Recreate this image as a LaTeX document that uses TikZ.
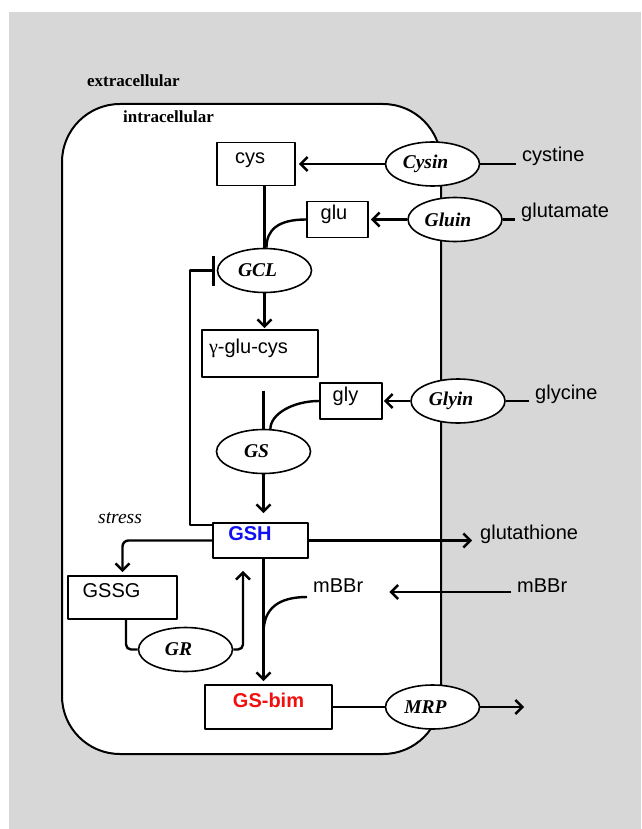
\documentclass[tikz,border=0pt]{standalone}
\usepackage{fontspec}
\setmainfont{Liberation Serif}
\setsansfont{Liberation Sans}
\usepackage{tikz}
\usetikzlibrary{arrows.meta,shapes.geometric}
\definecolor{bggray}{HTML}{D7D7D7}
\definecolor{gshblue}{HTML}{1010F0}
\definecolor{bimred}{HTML}{F01010}
\tikzset{
  every picture/.style={line join=round, >={Straight Barb[length=7pt,width=14pt]}},
  nudge/.style={execute at end node={\hspace*{#1}}},
  box/.style={draw, line width=1.8pt, fill=white, inner sep=2pt, text height=12pt, text depth=12pt, font={\sffamily\fontsize{20}{24}\selectfont}},
  enz/.style={ellipse, draw, line width=1.6pt, fill=white, minimum width=94pt, minimum height=44pt, inner sep=0pt, nudge=14pt, font={\rmfamily\bfseries\itshape\fontsize{19.5}{23}\selectfont}},
  lbl/.style={inner sep=6pt, anchor=base west, font={\sffamily\fontsize{20}{24}\selectfont}},
  zone/.style={inner sep=6pt, anchor=base west, font={\rmfamily\bfseries\fontsize{17}{20}\selectfont}},
  link/.style={line width=2.4pt},
  flow/.style={link, ->},
}

\begin{document}
\begin{tikzpicture}[x=1pt,y=-1pt]
\useasboundingbox (0,0) rectangle (641,829);
\fill[bggray] (9,12) rectangle (641,829);
\draw[line width=2pt, fill=white, rounded corners=58pt] (62,104) rectangle (441,754);
\node[zone] (extra) at (81,87) {extracellular};
\node[zone] (intra) at (117,123) {intracellular};
\node[box, minimum width=78pt, minimum height=43pt, nudge=12pt] (cys) at (256,164) {cys};
\node[enz] (cysin) at (432.5,164) {Cysin};
\node[lbl] (cystine) at (516,162) {cystine};
\node[box, minimum width=61pt, minimum height=36pt, nudge=7pt] (glu) at (337.5,219.5) {glu};
\node[enz] (gluin) at (455,219.5) {Gluin};
\node[lbl] (glutamate) at (515,217) {glutamate};
\node[enz] (gcl) at (264.5,270.5) {GCL};
\node[box, minimum width=116pt, minimum height=47pt, nudge=23pt] (gglucys) at (260,353.5) {{\rmfamily γ}-glu-cys};
\node[box, minimum width=62pt, minimum height=36pt, nudge=11pt] (gly) at (351,401) {gly};
\node[enz] (glyin) at (458,401) {Glyin};
\node[lbl] (glycine) at (529,399) {glycine};
\node[enz] (gs) at (263.5,451.5) {GS};
\node[box, minimum width=95pt, minimum height=35pt, nudge=21pt, text=gshblue, font={\sffamily\bfseries\fontsize{20}{24}\selectfont}] (gsh) at (260.5,540.5) {GSH};
\node[lbl] (glutathione) at (474,539) {glutathione};
\node[lbl, font={\rmfamily\itshape\fontsize{19.5}{23}\selectfont}] (stress) at (92,523) {stress};
\node[box, minimum width=109pt, minimum height=43pt, nudge=22pt] (gssg) at (122.5,597.5) {GSSG};
\node[enz] (gr) at (185.5,649.5) {GR};
\node[lbl] (mbbrin) at (307,592) {mBBr};
\node[lbl] (mbbrout) at (511,592) {mBBr};
\node[box, minimum width=127pt, minimum height=44pt, text=bimred, font={\sffamily\bfseries\fontsize{20}{24}\selectfont}] (gsbim) at (268.5,707) {GS-bim};
\node[enz] (mrp) at (432.5,707) {MRP};
\coordinate (merge) at (263.5,633);
\coordinate (mrpout) at (524,707);
\draw[flow, shorten >=3pt] (cysin) -- (cys);
\draw[link] (cysin.east) -- (cysin.east -| cystine.west);
\draw[flow, shorten >=2pt] (gluin) -- (glu);
\draw[link] (gluin.east) -- (gluin.east -| glutamate.west);
\draw[link] (cys.south -| gcl.north) -- (gcl.north);
\draw[link] (glu.west) .. controls +(-28,0) and +(0,-18) .. (gcl.85);
\draw[flow, shorten >=1pt] (gcl.south) -- (gcl.south |- gglucys.north);
\draw[link, -{Bar[width=30pt]}] ([yshift=-3pt]gsh.north west) -- ++(-22,0) |- ([xshift=-2pt]gcl.west);
\draw[link] ([yshift=38pt]gs.north) -- (gs.north);
\draw[flow, shorten >=1pt] (glyin) -- (gly);
\draw[link] (glyin.east) -- (glyin.east -| glycine.west);
\draw[link] (gly.west) .. controls +(-26,0) and +(0,-15) .. (gs.73);
\draw[flow, shorten >=9pt] (gs.south) -- (gs.south |- gsh.north);
\draw[flow, shorten >=2pt] (gsh.east) -- (gsh.east -| glutathione.west);
\draw[flow, rounded corners=6pt, shorten >=3pt] (gsh.west) -| (gssg.north);
\draw[link, rounded corners=5pt] ([xshift=3.5pt]gssg.south) |- (gr.west);
\draw[flow, rounded corners=5pt, shorten >=12pt] (gr.east) -| ([xshift=-17.5pt]gsh.south);
\draw[flow, shorten >=3pt] (gsh.south -| gs.south) -- (gsbim.north -| gs.south);
\draw[link] ([yshift=-5pt]mbbrin.base west) .. controls +(-28,0) and +(0,-25) .. (merge);
\draw[flow] (mbbrout.base west) -- ([xshift=20pt]mbbrin.base east);
\draw[link] (gsbim) -- (mrp);
\draw[flow] (mrp.east) -- (mrpout);
\end{tikzpicture}
\end{document}
